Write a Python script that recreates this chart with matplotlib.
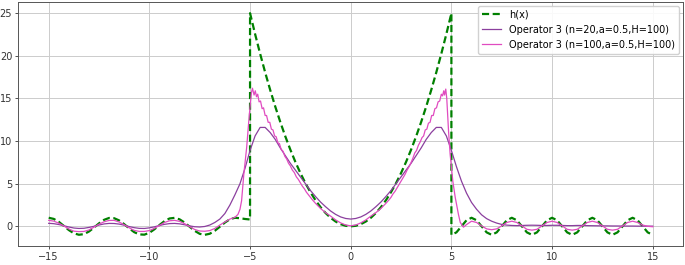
import numpy as np
import matplotlib
matplotlib.use("Agg")
from matplotlib import pyplot as plt

# h(x): wavy part left, parabola in the middle, wavy part right
h_left_x = np.arange(-15, -5, 0.25)
h_left_y = [1.00, 0.87, 0.53, 0.05, -0.44, -0.82, -0.99, -0.92, -0.61, -0.15,
            0.35, 0.76, 0.98, 0.95, 0.69, 0.25, -0.25, -0.69, -0.95, -0.98,
            -0.76, -0.35, 0.15, 0.61, 0.92, 0.99, 0.82, 0.44, -0.05, -0.53,
            -0.88, -1.00, -0.87, -0.52, -0.05, 0.44, 0.83, 1.00, 0.95, 0.86]
h_mid_x = np.arange(-5, 5.01, 0.25)
h_mid_y = [25, 22.56, 20.25, 18.06, 16, 14.06, 12.25, 10.56, 9, 7.56,
           6.25, 5.06, 4, 3.06, 2.25, 1.56, 1, 0.56, 0.25, 0.06,
           0,
           0.06, 0.25, 0.56, 1, 1.56, 2.25, 3.06, 4, 5.06, 6.25,
           7.56, 9, 10.56, 12.25, 14.06, 16, 18.06, 20.25, 22.56, 25]
h_right_x = np.arange(5, 15.01, 0.25)
h_right_y = [-1.0,
             -0.71, 0, 0.71, 1, 0.71, 0, -0.71, -1,
             -0.71, 0, 0.71, 1, 0.71, 0, -0.71, -1,
             -0.71, 0, 0.71, 1, 0.71, 0, -0.71, -1,
             -0.71, 0, 0.71, 1, 0.71, 0, -0.71, -1,
             -0.71, 0, 0.71, 1, 0.71, 0, -0.71, -1]

# Operator 3, n=20
op20_x = np.arange(-15, 15.01, 0.25)
op20_y = [0.35, 0.31, 0.21, 0.07, -0.08, -0.20, -0.25, -0.23, -0.13, 0.00,
          0.15, 0.28, 0.34, 0.33, 0.26, 0.13, -0.03, -0.16, -0.24, -0.25,
          -0.18, -0.06, 0.10, 0.23, 0.32, 0.34, 0.29, 0.18, 0.05, -0.05,
          -0.08, -0.02, 0.15, 0.45, 0.85, 1.5, 2.5, 3.7, 5.0, 6.8,
          8.9, 10.6, 11.6, 11.6, 11.0, 10.2, 9.2, 8.3, 7.4, 6.6,
          5.8, 5.0, 4.2, 3.5, 2.85, 2.3, 1.8, 1.4, 1.1, 0.92,
          0.85,
          0.92, 1.1, 1.4, 1.8, 2.3, 2.85, 3.5, 4.2, 5.0, 5.8,
          6.6, 7.4, 8.3, 9.2, 10.2, 11.0, 11.6, 11.6, 10.6, 8.9,
          7.0, 5.3, 3.9, 2.8, 2.0, 1.35, 0.9, 0.6, 0.38, 0.22,
          0.14, 0.10, 0.08, 0.10, 0.12, 0.13, 0.12, 0.10, 0.10, 0.12,
          0.12, 0.10, 0.08, 0.08, 0.10, 0.10, 0.08, 0.07, 0.06, 0.05,
          0.05, 0.04, 0.04, 0.03, 0.03, 0.03, 0.02, 0.02, 0.02, 0.02]

# Operator 3, n=100
op100_x = [-15, -14.75, -14.5, -14.25, -14, -13.75, -13.5, -13.25, -13, -12.75,
           -12.5, -12.25, -12, -11.75, -11.5, -11.25, -11, -10.75, -10.5, -10.25,
           -10, -9.75, -9.5, -9.25, -9, -8.75, -8.5, -8.25, -8, -7.75,
           -7.5, -7.25, -7, -6.75, -6.5, -6.25, -6, -5.75, -5.6, -5.5,
           -5.42, -5.31, -5.17, -5.04, -4.93, -4.88, -4.8, -4.74, -4.68, -4.62,
           -4.55, -4.48, -4.4, -4.33, -4.25, -4.18, -4.1, -4.02, -3.94, -3.86,
           -3.78, -3.7, -3.62, -3.54, -3.45, -3.36, -3.27, -3.18, -3.09, -3.0,
           -2.9, -2.8, -2.7, -2.6, -2.5, -2.4, -2.3, -2.2, -2.1, -2.0,
           -1.9, -1.75, -1.5, -1.25, -1.0, -0.75, -0.5, -0.25, 0,
           0.25, 0.5, 0.75, 1.0, 1.25, 1.5, 1.75, 1.9, 2.0, 2.1,
           2.2, 2.3, 2.4, 2.5, 2.6, 2.7, 2.8, 2.9, 3.0, 3.09,
           3.18, 3.27, 3.36, 3.45, 3.54, 3.62, 3.7, 3.78, 3.86, 3.94,
           4.02, 4.1, 4.18, 4.26, 4.34, 4.42, 4.5, 4.56, 4.62, 4.66,
           4.72, 4.77, 4.86, 4.94, 5.07, 5.19, 5.35, 5.44, 5.6, 5.75,
           6.0, 6.25, 6.5, 6.75, 7.0, 7.25, 7.5, 7.75, 8.0, 8.25,
           8.5, 8.75, 9.0, 9.25, 9.5, 9.75, 10.0, 10.25, 10.5, 10.75,
           11.0, 11.25, 11.5, 11.75, 12.0, 12.25, 12.5, 12.75, 13.0, 13.25,
           13.5, 13.75, 14.0, 14.25, 14.5, 14.75, 15.0]
op100_y = [0.70, 0.61, 0.37, 0.04, -0.31, -0.57, -0.62, -0.60, -0.43, -0.10,
           0.25, 0.53, 0.69, 0.70, 0.50, 0.18, -0.18, -0.48, -0.60, -0.60,
           -0.50, -0.24, 0.10, 0.45, 0.65, 0.70, 0.58, 0.31, -0.04, -0.37,
           -0.55, -0.58, -0.50, -0.25, 0.15, 0.50, 0.85, 1.05, 1.4, 2.0,
           3.0, 6.1, 9.2, 13.0, 15.7, 16.2, 15.4, 15.9, 15.2, 15.5,
           14.6, 14.7, 13.8, 13.9, 13.0, 13.0, 12.2, 12.2, 11.4, 11.3,
           10.6, 10.5, 9.8, 9.7, 9.0, 8.8, 8.2, 7.9, 7.4, 7.1,
           6.6, 6.3, 5.8, 5.5, 5.1, 4.7, 4.4, 4.0, 3.7, 3.4,
           3.1, 2.7, 2.1, 1.6, 1.2, 0.75, 0.4, 0.15, 0.06,
           0.15, 0.4, 0.75, 1.2, 1.6, 2.1, 2.7, 3.1, 3.4, 3.8,
           4.1, 4.5, 4.9, 5.3, 5.7, 6.1, 6.6, 7.0, 7.5, 8.0,
           8.6, 8.9, 9.5, 9.9, 10.4, 10.6, 11.3, 11.4, 12.1, 12.2,
           13.0, 13.0, 13.8, 13.9, 14.6, 14.7, 15.5, 15.3, 15.9, 15.4,
           16.1, 15.0, 11.1, 8.4, 5.3, 3.4, 1.4, 0.46, -0.1, 0.2,
           0.6, 0.45, 0.05, -0.3, -0.4, -0.3, 0.05, 0.45, 0.6, 0.45,
           0.05, -0.35, -0.45, -0.35, 0.05, 0.45, 0.6, 0.45, 0.05, -0.35,
           -0.45, -0.35, 0.05, 0.45, 0.6, 0.45, 0.05, -0.35, -0.45, -0.35,
           0.05, 0.45, 0.6, 0.45, 0.15, 0.0, -0.05]

# stitch h(x) together, the jumps at -5 and 5 are vertical
h_x = list(h_left_x) + [-5.0] + list(h_mid_x) + list(h_right_x)
h_y = h_left_y + [0.80] + h_mid_y + h_right_y

fig, ax = plt.subplots(figsize=(6.85, 2.65), dpi=100)
fig.subplots_adjust(left=0.027, right=0.997, top=0.992, bottom=0.072)

ax.plot(h_x, h_y, color='green', linestyle='--', dashes=(3.2, 1.6), linewidth=1.6, label='h(x)')
ax.plot(op20_x, op20_y, color='#8b3f9e', linewidth=0.9, label='Operator 3 (n=20,a=0.5,H=100)')
ax.plot(op100_x, op100_y, color='#e04cc0', linewidth=0.9, label='Operator 3 (n=100,a=0.5,H=100)')

ax.set_xticks([-15, -10, -5, 0, 5, 10, 15])
ax.set_yticks([0, 5, 10, 15, 20, 25])
ax.tick_params(labelsize=7, length=2.5, width=0.6, pad=2, colors='#333333')
ax.grid(True, color='#cccccc', linewidth=0.7)
for s in ax.spines.values():
    s.set_color('#555555')
    s.set_linewidth(0.7)

ax.legend(loc='upper right', fontsize=7, handlelength=2.0, borderaxespad=0.4,
          framealpha=0.9, edgecolor='#cccccc')

plt.savefig('out.png', dpi=100)
